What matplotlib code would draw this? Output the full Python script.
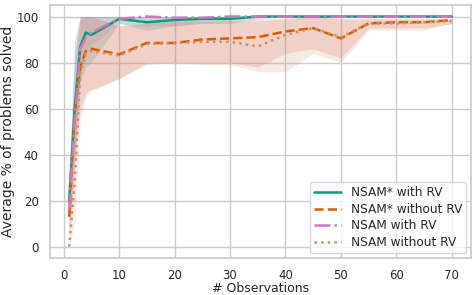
import numpy as np
import matplotlib
matplotlib.use("Agg")
import matplotlib.pyplot as plt
import seaborn as sns

# Observations
obs = [1, 2, 3, 4, 5, 10, 15, 20, 25, 30, 35, 40, 45, 50, 55, 60, 65, 70]

# NSAM* with RV
star_rv = [20, 60, 87, 93, 92, 99, 97.5, 98.5, 99, 99, 100, 100, 100, 100, 100, 100, 100, 100]
star_rv_lo = [5, 40, 72, 78, 80, 97, 94, 96, 97, 97, 99, 100, 100, 100, 100, 100, 100, 100]
star_rv_hi = [32, 90, 100, 100, 100, 100, 100, 100, 100, 100, 100, 100, 100, 100, 100, 100, 100, 100]

# NSAM* without RV
star_norv = [13, 58, 78, 85, 86, 83.5, 88.5, 88.5, 90, 90.5, 91, 93.5, 95, 90.5, 97, 97.5, 97.5, 98.5]
star_norv_lo = [5, 40, 60, 67, 68, 73, 80, 80, 80, 80, 78, 84, 86, 82, 95, 95, 95, 97]
star_norv_hi = [22, 80, 100, 100, 100, 96, 97, 98, 98, 98, 99, 99, 100, 99, 99, 99, 99, 99]

# NSAM with RV
nsam_rv = [16, 55, 86, 91, 93, 99, 100, 99.5, 99.5, 100, 100, 100, 100, 100, 100, 100, 100, 100]
nsam_rv_lo = [5, 30, 75, 85, 88, 97, 96, 96, 97, 98, 100, 100, 100, 100, 100, 100, 100, 100]
nsam_rv_hi = [30, 85, 100, 100, 100, 100, 100, 100, 100, 100, 100, 100, 100, 100, 100, 100, 100, 100]

# NSAM without RV
nsam_norv = [0, 28, 75, 84, 85, 83, 88, 88.5, 89, 89, 87, 92, 95, 91, 97, 97, 97.5, 98]
nsam_norv_lo = [0, 10, 55, 65, 68, 73, 79, 80, 79, 79, 76, 76, 84, 80, 94, 94, 94, 97]
nsam_norv_hi = [2, 60, 98, 100, 100, 96, 97, 98, 98, 98, 98, 99, 100, 99, 99, 99, 99, 99]

pal = sns.color_palette("colorblind")

sns.set_theme(style="whitegrid")

fig = plt.figure(figsize=(4.74, 2.95), dpi=100)
ax = fig.add_axes([0.105, 0.125, 0.889, 0.858])

# (label, mean, low, high, line colour, band colour, band alpha, style)
series = [
    ("NSAM* with RV", star_rv, star_rv_lo, star_rv_hi, pal[2], pal[2], 0.2, "-"),
    ("NSAM* without RV", star_norv, star_norv_lo, star_norv_hi, pal[3], "#e46969", 0.22, "--"),
    ("NSAM with RV", nsam_rv, nsam_rv_lo, nsam_rv_hi, pal[4], pal[4], 0.2, "-."),
    ("NSAM without RV", nsam_norv, nsam_norv_lo, nsam_norv_hi, pal[5], pal[5], 0.18, ":"),
]

for label, y, lo, hi, c, fc, a, ls in series:
    ax.fill_between(obs, lo, hi, color=fc, alpha=a, linewidth=0)
for label, y, lo, hi, c, fc, a, ls in series:
    ax.plot(obs, y, color=c, linestyle=ls, linewidth=1.8, label=label)

ax.set_xlim(-2.5, 73.5)
ax.set_ylim(-5, 105)
ax.set_xticks(range(0, 71, 10))
ax.set_yticks(range(0, 101, 20))
ax.tick_params(labelsize=8.5, pad=2)
ax.set_xlabel("# Observations", fontsize=9, labelpad=0)
ax.set_ylabel("Average % of problems solved", fontsize=10, labelpad=1)
ax.legend(loc="lower right", fontsize=8.7, borderaxespad=0.4, handlelength=2.2,
          labelspacing=0.3, borderpad=0.35)

fig.savefig("out.png", dpi=100)
